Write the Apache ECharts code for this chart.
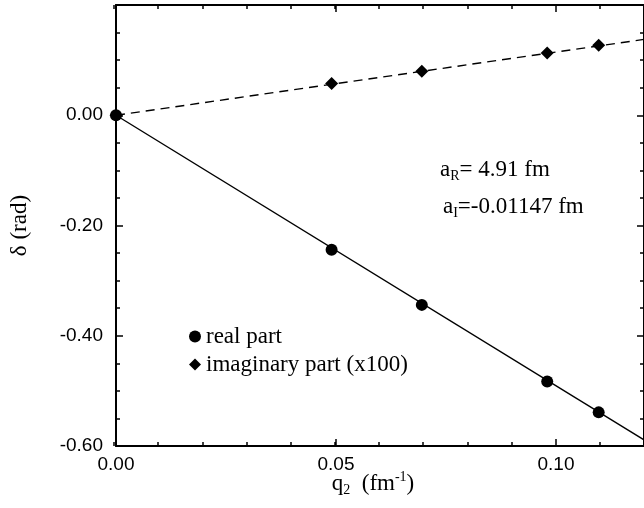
<!DOCTYPE html>
<html>
<head>
<meta charset="utf-8">
<script src="https://cdn.jsdelivr.net/npm/echarts@6/dist/echarts.min.js"></script>
<style>html,body{margin:0;padding:0;background:#fff}#c{width:644px;height:508px}</style>
</head>
<body>
<div id="c"></div>
<script>
// ---- data ----
const qData = [0, 0.049, 0.0695, 0.098, 0.1097];
const realPart = [0, -0.244, -0.344, -0.483, -0.539];
const imagPart = [0, 0.0575, 0.080, 0.113, 0.127];
const fitQ = [0, 0.12];
const realFit = [0, -0.589];
const imagFit = [0, 0.1376];
const xTickLabels = ['0.00', '0.05', '0.10'];
const yTickLabels = ['-0.60', '-0.40', '-0.20', '0.00'];
const seriesNames = ['real part', 'imaginary part (x100)'];
const annotR = ['a', 'R', '= 4.91 fm'];
const annotI = ['a', 'I', '=-0.01147 fm'];

const SERIF = 'Liberation Serif';
const SANS = 'Liberation Sans';
const FS = 23;
const GRID = {left: 114, top: 5, width: 534, height: 441};

function pairs(xs, ys) { return xs.map((x, i) => [x, ys[i]]); }

function xAx(gridIndex, position, interval, tickLen, labels, lineShow) {
  return {
    type: 'value', gridIndex, position, min: 0, max: 0.12, interval,
    axisLine: {show: lineShow, onZero: false, lineStyle: {color: '#000', width: 2}},
    axisTick: {show: true, inside: true, length: tickLen, lineStyle: {color: '#000', width: 1.5}},
    splitLine: {show: false},
    axisLabel: {
      show: labels, showMaxLabel: false, margin: 9, color: '#000',
      fontFamily: SANS, fontSize: 19,
      formatter: v => { const s = v.toFixed(2); return xTickLabels.includes(s) ? s : ''; }
    }
  };
}
function yAx(gridIndex, position, labels, show) {
  return {
    type: 'value', gridIndex, position, show, min: -0.6, max: 0.2, interval: 0.2,
    axisLine: {show: true, onZero: false, lineStyle: {color: '#000', width: 2}},
    axisTick: {show: true, inside: true, length: 7, lineStyle: {color: '#000', width: 1.5}},
    minorTick: {show: true, splitNumber: 4, length: 4, lineStyle: {color: '#000', width: 1.5}},
    splitLine: {show: false},
    axisLabel: {
      show: labels, showMaxLabel: false, margin: 13, color: '#000',
      fontFamily: SANS, fontSize: 19,
      formatter: v => { const s = v.toFixed(2); return yTickLabels.includes(s) ? s : ''; }
    }
  };
}

const xAxes = [
  xAx(0, 'bottom', 0.05, 7, true, true),
  xAx(0, 'top', 0.05, 7, false, true),
  xAx(1, 'bottom', 0.01, 4, false, false),
  xAx(1, 'top', 0.01, 4, false, false)
];
xAxes[0].name = '{a|q}{s|2}{a|  (fm}{p|-1}{a|)}';
xAxes[0].nameLocation = 'middle';
xAxes[0].nameGap = 24;
xAxes[0].nameMoveOverlap = false;
xAxes[0].nameTextStyle = {
  color: '#000', fontFamily: SERIF, fontSize: FS, padding: [0, 14, 0, 0],
  rich: {
    a: {fontFamily: SERIF, fontSize: FS, lineHeight: 27, color: '#000'},
    s: {fontFamily: SERIF, fontSize: 14, lineHeight: 12, verticalAlign: 'bottom', color: '#000'},
    p: {fontFamily: SERIF, fontSize: 14, lineHeight: 12, verticalAlign: 'top', color: '#000'}
  }
};

const yAxes = [
  yAx(0, 'left', true, true),
  yAx(0, 'right', false, true),
  yAx(1, 'left', false, false)
];
yAxes[0].name = 'δ (rad)';
yAxes[0].nameLocation = 'middle';
yAxes[0].nameGap = 85;
yAxes[0].nameMoveOverlap = false;
yAxes[0].nameTextStyle = {color: '#000', fontFamily: SERIF, fontSize: FS};

function richText(parts) {
  return {
    text: '{a|' + parts[0] + '}{s|' + parts[1] + '}{a|' + parts[2] + '}',
    rich: {
      a: {fontFamily: SERIF, fontSize: FS, lineHeight: 27, fill: '#000'},
      s: {fontFamily: SERIF, fontSize: 14, lineHeight: 12, verticalAlign: 'bottom', fill: '#000'}
    },
    fill: '#000'
  };
}

const option = {
  animation: false,
  backgroundColor: '#fff',
  grid: [Object.assign({}, GRID), Object.assign({}, GRID)],
  xAxis: xAxes,
  yAxis: yAxes,
  legend: {
    orient: 'vertical', left: 189, top: 325, padding: 0, itemGap: 5,
    itemWidth: 12, itemHeight: 12,
    data: [{name: seriesNames[0], icon: 'circle'}, {name: seriesNames[1], icon: 'diamond'}],
    textStyle: {color: '#000', fontFamily: SERIF, fontSize: FS}
  },
  graphic: [
    {type: 'text', left: 440, top: 158, style: richText(annotR)},
    {type: 'text', left: 443, top: 195, style: richText(annotI)}
  ],
  series: [
    {type: 'line', name: 'real fit', xAxisIndex: 0, yAxisIndex: 0, data: pairs(fitQ, realFit),
     showSymbol: false, lineStyle: {color: '#000', width: 1.4}, silent: true},
    {type: 'line', name: 'imag fit', xAxisIndex: 0, yAxisIndex: 0, data: pairs(fitQ, imagFit),
     showSymbol: false, lineStyle: {color: '#000', width: 1.4, type: [9, 6]}, silent: true},
    {type: 'scatter', name: seriesNames[1], xAxisIndex: 0, yAxisIndex: 0, data: pairs(qData, imagPart),
     symbol: 'diamond', symbolSize: 13, itemStyle: {color: '#000', opacity: 1}},
    {type: 'scatter', name: seriesNames[0], xAxisIndex: 0, yAxisIndex: 0, data: pairs(qData, realPart),
     symbol: 'circle', symbolSize: 12, itemStyle: {color: '#000', opacity: 1}}
  ]
};

const chart = echarts.init(document.getElementById('c'), null, {renderer: 'canvas'});
chart.setOption(option);
</script>
</body>
</html>
